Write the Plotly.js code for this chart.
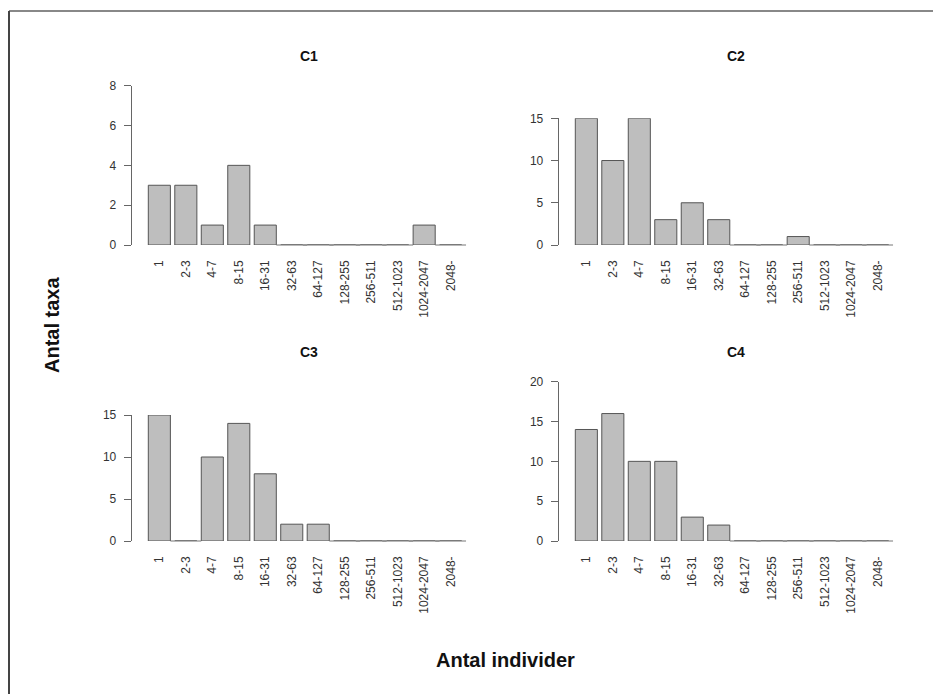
<!DOCTYPE html>
<html>
<head>
<meta charset="utf-8">
<script src="https://cdn.plot.ly/plotly-3.0.1.min.js"></script>
<style>html,body{margin:0;padding:0;background:#fff;}#chart{width:933px;height:694px;}</style>
</head>
<body>
<div id="chart"></div>
<script>
// ---- data ----
const categories = ['1','2-3','4-7','8-15','16-31','32-63','64-127','128-255','256-511','512-1023','1024-2047','2048-'];
const c1 = [3, 3, 1, 4, 1, 0, 0, 0, 0, 0, 1, 0];
const c2 = [15, 10, 15, 3, 5, 3, 0, 0, 1, 0, 0, 0];
const c3 = [15, 0, 10, 14, 8, 2, 2, 0, 0, 0, 0, 0];
const c4 = [14, 16, 10, 10, 3, 2, 0, 0, 0, 0, 0, 0];
const panelTitles = ['C1', 'C2', 'C3', 'C4'];
const yAxisTop = [8, 15, 15, 20];
const yAxisStep = [2, 5, 5, 5];
const yTitle = 'Antal taxa';
const xTitle = 'Antal individer';

// ---- layout helpers ----
const W = 933, H = 694;
const px = v => v / W;
const py = v => 1 - v / H;
const FONT = 'Liberation Sans, Arial, sans-serif';

// pixel geometry of the four panels: [xLeft, xRight, yZero, yTop]
const panels = [
  [131.7, 466, 245, 85.7],
  [558.7, 893, 245, 118.3],
  [131.7, 466, 541, 415],
  [558.7, 893, 541, 381.7]
];
const titlePos = [[309, 56], [736, 56], [309, 352], [736, 352]];
const series = [c1, c2, c3, c4];

const traces = [];
const layout = {
  width: W, height: H,
  margin: {l: 0, r: 0, t: 0, b: 0},
  paper_bgcolor: '#fff', plot_bgcolor: 'rgba(0,0,0,0)',
  showlegend: false,
  bargap: 0.2 / 1.2,
  font: {family: FONT, size: 12, color: '#333'},
  annotations: [],
  shapes: [
    {type: 'line', xref: 'paper', yref: 'paper', x0: px(9), x1: 1, y0: py(11), y1: py(11), line: {color: '#888', width: 2}},
    {type: 'line', xref: 'paper', yref: 'paper', x0: px(9), x1: px(9), y0: py(11), y1: 0, line: {color: '#444', width: 2}}
  ]
};

series.forEach((vals, i) => {
  const n = i + 1;
  const xa = 'x' + (n === 1 ? '' : n), ya = 'y' + (n === 1 ? '' : n);
  const xk = 'xaxis' + (n === 1 ? '' : n), yk = 'yaxis' + (n === 1 ? '' : n);
  const [xl, xr, y0, yt] = panels[i];
  traces.push({
    type: 'bar', x: categories, y: vals, xaxis: xa, yaxis: ya,
    marker: {color: '#bebebe', line: {color: '#555', width: 1}},
    cliponaxis: false, hoverinfo: 'x+y'
  });
  // baseline segments (R draws zero-height bars as flat lines)
  traces.push({
    type: 'scatter', mode: 'markers', x: categories, y: vals.map(v => (v === 0 ? 0 : null)),
    xaxis: xa, yaxis: ya, cliponaxis: false, hoverinfo: 'skip',
    marker: {symbol: 'line-ew', size: 22, color: '#777', line: {color: '#777', width: 1}}
  });
  layout[xk] = {
    domain: [px(xl), px(xr)], anchor: ya,
    type: 'category', categoryorder: 'array', categoryarray: categories,
    range: [-1.044, 11.58], fixedrange: true,
    showline: false, showgrid: false, zeroline: false,
    ticks: '', tickangle: -90, ticklabelstandoff: 12,
    tickfont: {family: FONT, size: 12, color: '#333'}
  };
  layout[yk] = {
    domain: [py(y0), py(yt)], anchor: xa,
    range: [0, yAxisTop[i]], tick0: 0, dtick: yAxisStep[i], fixedrange: true,
    showline: true, linecolor: '#666', linewidth: 1,
    showgrid: false, zeroline: false,
    ticks: 'outside', ticklen: 7, tickcolor: '#666', tickwidth: 1,
    ticklabelstandoff: 5,
    tickfont: {family: FONT, size: 12, color: '#333'}
  };
  layout.annotations.push({
    xref: 'paper', yref: 'paper', x: px(titlePos[i][0]), y: py(titlePos[i][1]),
    text: '<b>' + panelTitles[i] + '</b>', showarrow: false,
    xanchor: 'center', yanchor: 'middle',
    font: {family: FONT, size: 14, color: '#111'}
  });
});

layout.annotations.push({
  xref: 'paper', yref: 'paper', x: px(52), y: py(325), textangle: -90,
  text: '<b>' + yTitle + '</b>', showarrow: false, xanchor: 'center', yanchor: 'middle',
  font: {family: FONT, size: 20, color: '#111'}
});
layout.annotations.push({
  xref: 'paper', yref: 'paper', x: px(506), y: py(660),
  text: '<b>' + xTitle + '</b>', showarrow: false, xanchor: 'center', yanchor: 'middle',
  font: {family: FONT, size: 20, color: '#111'}
});

Plotly.newPlot('chart', traces, layout, {displayModeBar: false, staticPlot: false});
</script>
</body>
</html>
